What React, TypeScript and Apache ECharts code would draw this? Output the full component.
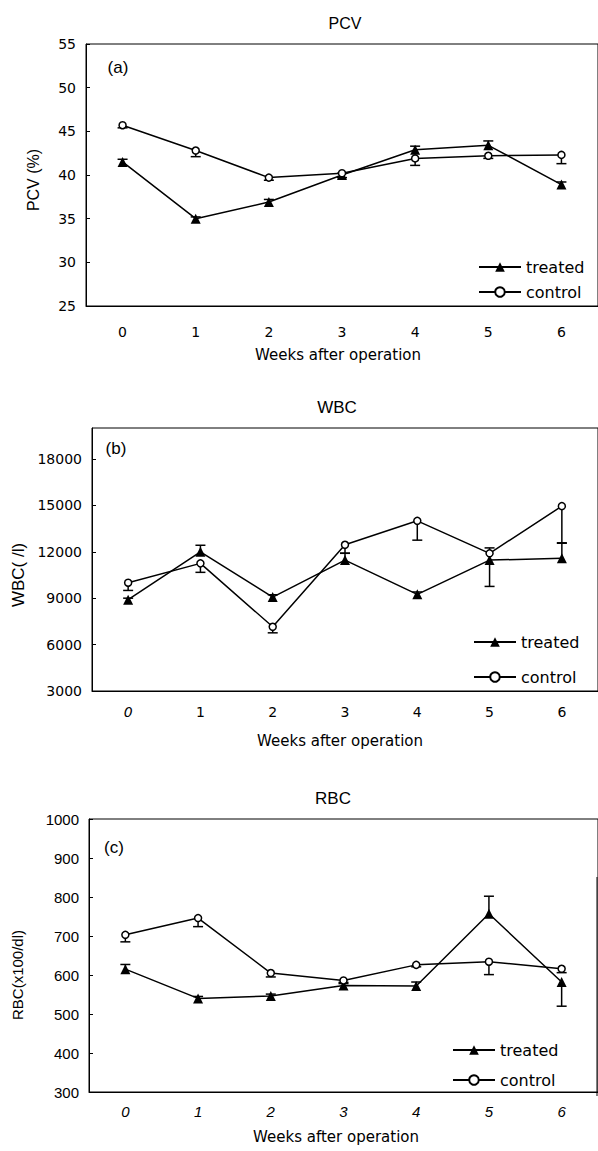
import React, { useEffect, useRef } from "react";
import * as echarts from "echarts";

// ---- data ----
const weeks = ["0", "1", "2", "3", "4", "5", "6"];

const pcvTreated = [41.5, 35.0, 36.9, 40.0, 42.9, 43.4, 38.9];
const pcvControl = [45.7, 42.8, 39.7, 40.2, 41.9, 42.2, 42.3];
// signed error bars: positive drawn upward, negative drawn downward
const pcvTreatedErr = [0.3, 0.2, 0.3, 0.2, 0.4, 0.5, 0.3];
const pcvControlErr = [-0.3, -0.7, -0.3, -0.5, -0.8, -0.3, -1.0];

const wbcTreated = [8900, 12000, 9070, 11460, 9250, 11460, 11580];
const wbcControl = [10000, 11250, 7150, 12450, 14000, 11900, 14950];
const wbcTreatedErr = [100, 420, 150, 450, 150, -1700, 1000];
const wbcControlErr = [-500, -580, -390, -550, -1250, 350, -2400];

const rbcTreated = [615, 540, 546, 573, 572, 757, 582];
const rbcControl = [703, 746, 605, 586, 626, 634, 616];
const rbcTreatedErr = [12, 5, 5, 5, 10, 45, -62];
const rbcControlErr = [-18, -22, -10, -5, -5, -33, -10];

const pcvTicks = { min: 25, max: 55, interval: 5 };
const wbcTicks = { min: 3000, max: 20000, interval: 3000 };
const rbcTicks = { min: 300, max: 1000, interval: 100 };

const seriesNames = ["treated", "control"];

const FONT = "'DejaVu Sans', sans-serif";
const ARIAL = "'Liberation Sans', Arial, sans-serif";

function errRender(params: any, api: any) {
  const x = api.value(0);
  const v = api.value(1);
  const e = api.value(2);
  const p0 = api.coord([x, v]);
  const p1 = api.coord([x, v + e]);
  const half = 5;
  return {
    type: "group",
    children: [
      {
        type: "line",
        shape: { x1: p0[0], y1: p0[1], x2: p1[0], y2: p1[1] },
        style: { stroke: "#000", lineWidth: 1.5 },
      },
      {
        type: "line",
        shape: { x1: p1[0] - half, y1: p1[1], x2: p1[0] + half, y2: p1[1] },
        style: { stroke: "#000", lineWidth: 1.5 },
      },
    ],
  };
}

export default function App() {
  const ref = useRef<HTMLDivElement>(null);
  useEffect(() => {
    const chart = echarts.init(ref.current!, null, { renderer: "svg" });

    const grids = [
      { left: 86, top: 44, width: 514, height: 262 },
      { left: 92, top: 428, width: 508, height: 263 },
      { left: 89, top: 819, width: 511, height: 273 },
    ];
    const ticks = [pcvTicks, wbcTicks, rbcTicks];
    const treated = [pcvTreated, wbcTreated, rbcTreated];
    const control = [pcvControl, wbcControl, rbcControl];
    const tErr = [pcvTreatedErr, wbcTreatedErr, rbcTreatedErr];
    const cErr = [pcvControlErr, wbcControlErr, rbcControlErr];
    const labelMargins = [19, 14, 12];

    const xAxis = grids.map((g, i) => ({
      type: "category",
      gridIndex: i,
      data: weeks,
      boundaryGap: true,
      axisLine: { lineStyle: { color: "#000", width: 1 } },
      axisTick: { inside: true, length: 4, lineStyle: { color: "#000" } },
      axisLabel: {
        color: "#000",
        margin: labelMargins[i],
        fontFamily: i === 2 ? ARIAL : FONT,
        fontSize: i === 2 ? 15 : 14,
        fontStyle: i === 2 ? "italic" : "normal",
        formatter: i === 1 ? (v: string) => (v === "0" ? "{it|0}" : v) : undefined,
        rich: i === 1 ? { it: { fontStyle: "italic", fontFamily: FONT, fontSize: 14, color: "#000" } } : undefined,
      },
      splitLine: { show: false },
    }));

    const yAxis = grids.map((g, i) => ({
      type: "value",
      gridIndex: i,
      min: ticks[i].min,
      max: ticks[i].max,
      interval: ticks[i].interval,
      axisLine: { show: true, lineStyle: { color: "#000", width: 1 } },
      axisTick: { show: true, inside: true, length: 4, lineStyle: { color: "#000" } },
      axisLabel: {
        color: "#000",
        margin: 10,
        fontFamily: i === 2 ? ARIAL : FONT,
        fontSize: i === 2 ? 15 : 14,
        showMaxLabel: i !== 1,
        formatter: (v: number) => String(v),
      },
      splitLine: { show: false },
    }));

    const series: any[] = [];
    for (let i = 0; i < 3; i++) {
      series.push({
        type: "custom",
        name: "err-t-" + i,
        xAxisIndex: i,
        yAxisIndex: i,
        z: 1,
        renderItem: errRender,
        data: treated[i].map((v, k) => [k, v, tErr[i][k]]),
      });
      series.push({
        type: "custom",
        name: "err-c-" + i,
        xAxisIndex: i,
        yAxisIndex: i,
        z: 1,
        renderItem: errRender,
        data: control[i].map((v, k) => [k, v, cErr[i][k]]),
      });
      series.push({
        type: "line",
        name: seriesNames[0],
        xAxisIndex: i,
        yAxisIndex: i,
        z: 2,
        data: treated[i],
        symbol: "triangle",
        symbolSize: 10,
        showAllSymbol: true,
        lineStyle: { color: "#000", width: 1.5 },
        itemStyle: { color: "#000" },
      });
      series.push({
        type: "line",
        name: seriesNames[1],
        xAxisIndex: i,
        yAxisIndex: i,
        z: 3,
        data: control[i],
        symbol: "circle",
        symbolSize: 7,
        showAllSymbol: true,
        lineStyle: { color: "#000", width: 1.5 },
        itemStyle: { color: "#fff", borderColor: "#000", borderWidth: 1.5 },
      });
    }

    const legendPos = [
      { left: 478, top: 259, itemGap: 9 },
      { left: 473, top: 634, itemGap: 19 },
      { left: 452, top: 1042, itemGap: 14 },
    ];
    const legend = legendPos.map((p) => ({
      data: seriesNames,
      orient: "vertical",
      left: p.left,
      top: p.top,
      itemGap: p.itemGap,
      itemWidth: 42,
      itemHeight: 12,
      padding: 0,
      selectedMode: false,
      textStyle: { color: "#000", fontFamily: FONT, fontSize: 16 },
    }));

    const txt = (x: number, y: number, text: string, size: number, family: string, extra: any = {}) => ({
      type: "text",
      x,
      y,
      ...extra,
      style: {
        text,
        fill: "#000",
        fontSize: size,
        fontFamily: family,
        textAlign: "center",
        textVerticalAlign: "middle",
      },
    });
    const rot = { rotation: Math.PI / 2 };

    const graphic = [
      txt(345, 23, "PCV", 16, ARIAL),
      txt(337, 407, "WBC", 17, ARIAL),
      txt(333, 798, "RBC", 17, ARIAL),
      txt(118, 67, "(a)", 17, ARIAL),
      txt(116, 448, "(b)", 17, ARIAL),
      txt(114, 847, "(c)", 17, ARIAL),
      txt(33, 180, "PCV (%)", 16, ARIAL, rot),
      txt(18, 575, "WBC( /l)", 17, ARIAL, rot),
      txt(17, 975, "RBC(x100/dl)", 15, ARIAL, rot),
      txt(338, 355, "Weeks after operation", 15, FONT),
      txt(340, 741, "Weeks after operation", 15, FONT),
      txt(336, 1137, "Weeks after operation", 15, FONT),
      {
        type: "line",
        shape: { x1: 597, y1: 877, x2: 597, y2: 1096 },
        style: { stroke: "#000", lineWidth: 1 },
      },
    ];

    chart.setOption({
      animation: false,
      backgroundColor: "#fff",
      grid: grids.map((g) => ({ ...g, show: true, borderColor: "#000", borderWidth: 1, backgroundColor: "transparent" })),
      xAxis,
      yAxis,
      legend,
      series,
      graphic,
    });
    return () => chart.dispose();
  }, []);
  return (
    <div
      ref={ref}
      style={{ position: "absolute", left: 0, top: 0, width: 598, height: 1151, background: "#fff" }}
    />
  );
}
